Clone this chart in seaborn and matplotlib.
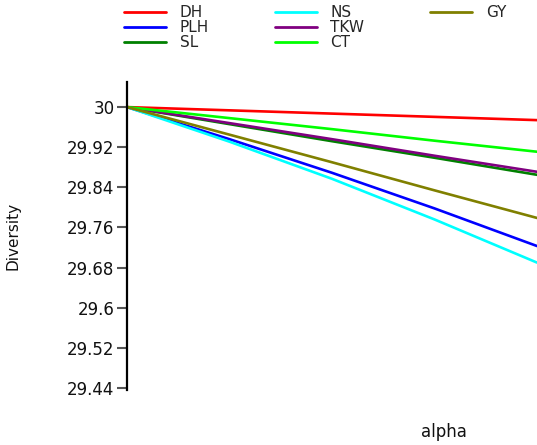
import warnings
warnings.filterwarnings("ignore")

import pandas as pd
import matplotlib
matplotlib.use("Agg")
import matplotlib.pyplot as plt
from matplotlib.lines import Line2D
import seaborn as sns

# alpha grid and diversity curves
alpha = [0.0, 0.25, 0.5, 0.75, 1.0]
traits = ["DH", "PLH", "SL", "NS", "TKW", "CT", "GY"]
DH = [30.0, 29.9935, 29.987, 29.9805, 29.974]
PLH = [30.0, 29.936, 29.869, 29.798, 29.723]
SL = [30.0, 29.966, 29.932, 29.899, 29.865]
NS = [30.0, 29.931, 29.857, 29.776, 29.690]
TKW = [30.0, 29.968, 29.936, 29.903, 29.871]
CT = [30.0, 29.978, 29.956, 29.933, 29.911]
GY = [30.0, 29.945, 29.890, 29.834, 29.779]
yticks = [29.44, 29.52, 29.6, 29.68, 29.76, 29.84, 29.92, 30]
ytick_labels = ["29.44", "29.52", "29.6", "29.68", "29.76", "29.84", "29.92", "30"]

colors = {"DH": "#ff0000", "PLH": "#0000ff", "SL": "#008000", "NS": "#00ffff",
          "TKW": "#800080", "CT": "#00ff00", "GY": "#808000"}

series = {"DH": DH, "PLH": PLH, "SL": SL, "NS": NS, "TKW": TKW, "CT": CT, "GY": GY}
df = pd.DataFrame([(a, t, v) for t in traits for a, v in zip(alpha, series[t])],
                  columns=["alpha", "trait", "Diversity"])

sns.set_theme(style="white")
plt.rcParams["font.family"] = ["DejaVu Sans"]

fig = plt.figure(figsize=(5.37, 4.45), dpi=100)
ax = fig.add_axes([127 / 537, 1 - 390 / 445, 1 - 127 / 537, (390 - 82) / 445])

sns.lineplot(data=df, x="alpha", y="Diversity", hue="trait", hue_order=traits,
             palette=colors, linewidth=1.9, ax=ax, legend=True)

ax.set_xlim(0, 1)
ax.set_ylim(29.436, 30.05)
ax.set_yticks(yticks)
ax.set_yticklabels(ytick_labels, fontsize=12, color="#111111")
ax.set_xticks([])
ax.tick_params(axis="y", left=True, length=7, width=1.5, color="#555555", pad=2)
for s in ["top", "right", "bottom"]:
    ax.spines[s].set_visible(False)
ax.spines["left"].set_color("black")
ax.spines["left"].set_linewidth(1.6)

ax.set_ylabel("Diversity", fontsize=11, color="#111111")
ax.yaxis.set_label_coords(-(127 - 20) / 410, 0.5)
ax.set_xlabel("alpha", fontsize=12, color="#111111", va="center")
ax.xaxis.set_label_coords((444 - 127) / 410, -(432 - 390) / 308)

handles, labels = ax.get_legend_handles_labels()
ax.get_legend().remove()
# pad the last column so the legend fills 3 + 3 + 1 like the reference
blank = Line2D([], [], alpha=0)
handles = handles + [blank, blank]
labels = labels + ["", ""]
leg = fig.legend(handles, labels, ncol=3, loc="upper left",
                 bbox_to_anchor=(124 / 537, 1 - 5 / 445), frameon=False,
                 fontsize=11, handlelength=2.75, handletextpad=0.9,
                 columnspacing=4.3, labelspacing=0.0, borderpad=0, borderaxespad=0)
for h in leg.get_lines():
    h.set_linewidth(2.0)

fig.savefig("out.png", dpi=100)
